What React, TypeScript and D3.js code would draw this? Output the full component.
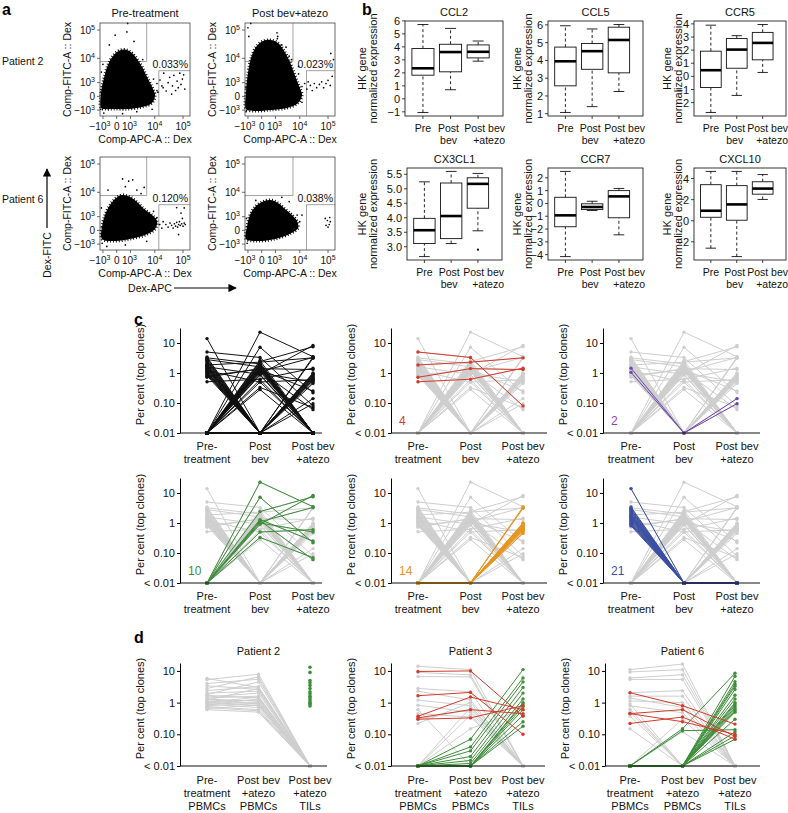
import React, { useEffect, useRef } from 'react';
import * as d3 from 'd3';

const W = 788;
const H = 813;
const FONT = '"Liberation Sans", Arial, Helvetica, sans-serif';

// ---------- a: flow cytometry (Comp-APC-A, Comp-FITC-A) ----------
const flowTicks = [-1000, 0, 1000, 10000, 100000];
const flowTickBase = ['−10', '0', '10', '10', '10'];
const flowTickExp = ['3', '', '3', '4', '5'];
const flowTitles = ['Pre-treatment', 'Post bev+atezo'];
const flowPercents = ['0.033%', '0.023%', '0.120%', '0.038%'];
const preGates = [[5000, 7600], [14000, 3400]];
const postGates = [[5600, 7600], [17500, 3400]];

// dense part of each plot, outline of the black cloud
const p2PreCloud = [[-1254, -767], [-1254, 155], [-880, 1670], [-502, 5740], [-172, 12110], [102, 18780], [553, 20350], [1203, 15530], [2039, 9370], [3288, 4830], [5152, 1855], [7932, 557], [10215, 58], [7932, -350], [3288, -670], [736, -873], [-120, -873], [-774, -873]];
const p2PostCloud = [[-1254, -873], [-1254, 155], [-995, 2740], [-676, 10240], [-288, 25400], [55, 41300], [553, 44800], [1344, 35100], [2480, 18780], [3945, 8650], [6132, 2740], [9350, 646], [12080, 58], [8630, -350], [3288, -767], [472, -987], [-354, -1110]];
const p6PreCloud = [[-1119, -497], [-1119, 155], [-774, 1209], [-354, 3300], [-27, 6150], [265, 7960], [950, 6710], [2039, 4330], [3945, 2260], [7932, 1209], [12080, 557], [10215, 58], [4316, -224], [950, -497], [-63, -670]];
const p6PostCloud = [[-1254, -497], [-1119, 155], [-774, 1209], [-354, 2740], [13, 4330], [472, 5170], [1344, 3960], [2730, 2260], [5152, 1209], [7932, 557], [8630, 105], [4717, -126], [950, -497], [-227, -670]];

// sparse events outside the cloud
const p2PreEvents = [[15400, 1350], [18000, 650], [21000, 2700], [25700, 270], [30000, 1000], [34000, 1800], [42800, 650], [48000, 2200], [55000, 300], [62000, 1200], [77000, 2700], [85000, 800], [95000, 1500], [115000, 400], [105000, 2300], [68000, 500], [40000, 100], [20000, 500], [12000, 900], [13000, 200], [-65, 66000], [630, 86000], [700, 170000], [1500, 40000], [-400, 30000], [-1300, 200], [-1300, -900], [-900, -1400], [300, -1500], [2000, -1200], [8000, -900], [9000, 1500], [12000, 300], [3500, 9000], [-1000, 6000], [-1200, 3000]];
const p2PostEvents = [[12000, 600], [15000, 900], [18000, 400], [20000, 1100], [24000, 700], [28000, 300], [33000, 900], [40000, 500], [50000, 800], [60000, 1100], [70000, 500], [85000, 900], [100000, 1300], [120000, 700], [140000, 2000], [155000, 9000], [125000, 15000], [-900, 60000], [-1000, 120000], [-700, 170000], [2000, 30000], [4000, 12000], [9000, 5000], [1200, 80000], [1300, 60000], [1250, 50000], [-1300, 500], [-1250, -1200], [12000, -300], [9000, 2500], [5000, 9000], [3000, 25000]];
const p6PreEvents = [[25000, 300], [30000, 150], [35000, 400], [40000, 250], [45000, 100], [50000, 350], [55000, 200], [60000, 450], [65000, 150], [70000, 300], [75000, 500], [80000, 250], [90000, 350], [100000, 200], [110000, 400], [120000, 300], [95000, 800], [85000, 1500], [110000, 2500], [18000, 100], [15000, 300], [20000, 500], [60000, 2600], [70000, -200], [300, 30000], [800, 25000], [1300, 28000], [2000, 12000], [3000, 9000], [4000, 15000], [500, 16000], [-500, 12000], [-1200, 2500], [-1100, -900], [-600, -1300], [500, -1100], [5000, -700], [12000, 900], [9000, 1800]];
const p6PostEvents = [[80000, 800], [95000, 600], [110000, 300], [120000, 500], [85000, 250], [100000, 150], [115000, 900], [-1200, 800], [-1100, -900], [8000, 1200], [10000, 500], [12000, 1200], [4000, 4500], [2000, 6500], [-300, 5000], [-1300, -300]];

// ---------- b: box plots, [low whisker, Q1, median, Q3, high whisker] ----------
const boxGroups = [['Pre'], ['Post', 'bev'], ['Post bev', '+atezo']];
const ccl2Stats = [[-1.05, 1.82, 2.35, 3.87, 5.72], [0.7, 2.08, 3.6, 4.2, 5.42], [2.9, 3.15, 3.62, 4.15, 4.45]];
const ccl5Stats = [[1.07, 2.57, 3.95, 4.75, 5.95], [1.4, 3.5, 4.52, 4.95, 5.77], [2.25, 3.3, 5.15, 5.87, 6.02]];
const ccr5Stats = [[-2.75, -0.85, 0.47, 1.92, 3.9], [-1.45, 0.62, 2.04, 2.88, 3.1], [0.3, 1.26, 2.55, 3.35, 3.95]];
const cx3cl1Stats = [[2.66, 3.11, 3.57, 3.98, 5.24], [3.11, 3.28, 4.06, 5.2, 5.6], [3.55, 4.33, 5.17, 5.38, 5.53]];
const cx3cl1Outliers = [[3, 2.9]];
const ccr7Stats = [[-4.15, -1.82, -0.93, 0.48, 2.5], [-0.55, -0.48, -0.28, -0.03, 0.17], [-2.45, -1.12, 0.55, 1.0, 1.17]];
const cxcl10Stats = [[-2.6, 0.33, 0.95, 3.42, 4.68], [-3.4, 0.05, 1.55, 3.33, 4.68], [2.02, 2.52, 3.05, 3.7, 4.38]];
const ccl2Ticks = [-1, 0, 1, 2, 3, 4, 5, 6];
const ccl5Ticks = [1, 2, 3, 4, 5, 6];
const ccr5Ticks = [-2, -1, 0, 1, 2, 3, 4];
const cx3cl1Ticks = [3.0, 3.5, 4.0, 4.5, 5.0, 5.5];
const ccr7Ticks = [-4, -3, -2, -1, 0, 1, 2];
const cxcl10Ticks = [-2, 0, 2, 4];

// ---------- c: top clones, per cent at [pre, post bev, post bev+atezo]; 0.01 = below detection ----------
const cTimeLabels = [['Pre-', 'treatment'], ['Post', 'bev'], ['Post bev', '+atezo']];
const cRed = [[5.0, 3.3, 0.08], [1.85, 2.3, 3.2], [0.72, 1.4, 1.3], [0.51, 0.62, 1.45]];
const cPurple = [[1.45, 0.01, 0.14], [1.05, 0.01, 0.095]];
const cGreen = [[0.01, 23, 3.5], [0.01, 7.2, 0.22], [0.01, 2.4, 7.5], [0.01, 1.3, 0.25], [0.01, 1.2, 0.06], [0.01, 1.1, 3.3], [0.01, 1.0, 0.5], [0.01, 0.5, 0.6], [0.01, 0.33, 0.07], [0.01, 0.9, 8.3]];
const cOrange = [[0.01, 0.01, 3.4], [0.01, 0.01, 3.1], [0.01, 0.01, 1.0], [0.01, 0.01, 0.95], [0.01, 0.01, 0.9], [0.01, 0.01, 0.85], [0.01, 0.01, 0.8], [0.01, 0.01, 0.75], [0.01, 0.01, 0.7], [0.01, 0.01, 0.66], [0.01, 0.01, 0.62], [0.01, 0.01, 0.58], [0.01, 0.01, 0.52], [0.01, 0.01, 0.45]];
const cBlue = [[14, 0.01, 0.01], [3.4, 0.01, 0.01], [3.1, 0.01, 0.01], [2.8, 0.01, 0.01], [2.6, 0.01, 0.01], [2.4, 0.01, 0.01], [2.2, 0.01, 0.01], [2.0, 0.01, 0.01], [1.9, 0.01, 0.01], [1.8, 0.01, 0.01], [1.7, 0.01, 0.01], [1.6, 0.01, 0.01], [1.5, 0.01, 0.01], [1.4, 0.01, 0.01], [1.3, 0.01, 0.01], [1.2, 0.01, 0.01], [1.1, 0.01, 0.01], [1.0, 0.01, 0.01], [0.95, 0.01, 0.01], [0.88, 0.01, 0.01], [0.8, 0.01, 0.01]];
const cPostOnly = [[0.01, 2.6, 0.01], [0.01, 2.2, 0.01], [0.01, 2.0, 0.01], [0.01, 1.9, 0.01], [0.01, 1.8, 0.01], [0.01, 1.7, 0.01], [0.01, 1.6, 0.01], [0.01, 1.5, 0.01], [0.01, 1.45, 0.01], [0.01, 1.4, 0.01], [0.01, 1.3, 0.01], [0.01, 1.2, 0.01], [0.01, 1.1, 0.01], [0.01, 0.85, 0.01], [0.01, 0.6, 0.01], [0.01, 0.28, 0.01]];
const cPrePost = [[2.8, 1.6, 0.01], [3.2, 2.0, 0.01], [1.6, 0.9, 0.01], [1.2, 0.5, 0.01], [0.8, 1.35, 0.01]];

// ---------- d: PBMC pre, PBMC post bev+atezo, TIL post bev+atezo ----------
const dTimeLabels = [['Pre-', 'treatment', 'PBMCs'], ['Post bev', '+atezo', 'PBMCs'], ['Post bev', '+atezo', 'TILs']];
const p2Pbmc = [[5.8, 3.0, 0.01], [5.3, 7.9, 0.01], [4.0, 5.5, 0.01], [3.4, 2.6, 0.01], [2.8, 6.5, 0.01], [2.4, 3.2, 0.01], [2.0, 2.3, 0.01], [1.8, 4.5, 0.01], [1.7, 1.4, 0.01], [1.5, 2.0, 0.01], [1.4, 1.6, 0.01], [1.3, 1.1, 0.01], [1.25, 0.9, 0.01], [1.2, 2.8, 0.01], [1.1, 1.2, 0.01], [1.05, 0.8, 0.01], [1.0, 1.5, 0.01], [0.95, 1.0, 0.01], [0.9, 0.7, 0.01], [0.85, 1.3, 0.01], [0.8, 0.95, 0.01], [0.75, 0.6, 0.01], [0.7, 0.55, 0.01], [0.65, 0.85, 0.01], [0.6, 0.5, 0.01]];
const p2TilOnly = [13, 9, 5, 4.2, 3.5, 2.8, 2.2, 1.9, 1.6, 1.4, 1.2, 1.05, 0.95, 0.85, 0.78];
const p3Grey = [[14, 11, 0.01], [9, 7.5, 0.01], [6.6, 6.5, 0.01], [2.8, 2.2, 0.01], [2.3, 1.2, 0.01], [1.2, 0.8, 0.01], [0.83, 0.5, 0.01], [0.45, 0.35, 0.01], [0.3, 0.6, 0.01], [0.22, 1.0, 0.01], [0.01, 0.4, 0.01], [0.01, 0.7, 0.01], [0.6, 0.01, 0.01], [0.01, 0.15, 0.6]];
const p3Red = [[9.6, 10, 0.37], [1.65, 2.1, 0.1], [0.37, 1.5, 0.6], [0.3, 0.33, 0.8], [0.33, 0.6, 0.45]];
const p3Green = [[0.01, 0.07, 11], [0.01, 0.04, 6], [0.01, 0.03, 4.5], [0.01, 0.02, 3], [0.01, 0.015, 2], [0.01, 0.012, 1.3], [0.01, 0.01, 1.0], [0.01, 0.01, 0.9], [0.01, 0.01, 0.75], [0.01, 0.01, 0.6], [0.01, 0.01, 0.4], [0.01, 0.01, 0.25], [0.01, 0.01, 0.18]];
const p6Grey = [[11, 16.5, 0.01], [9.3, 11, 0.01], [6, 7.6, 0.01], [5.4, 5.4, 0.01], [2.05, 2.4, 0.01], [1.6, 1.6, 0.01], [1.13, 1.0, 0.01], [0.79, 0.48, 0.01], [0.62, 0.01, 0.01], [0.38, 0.01, 0.01], [0.15, 0.01, 0.01], [0.01, 0.3, 0.01], [0.01, 0.12, 0.01], [1.4, 0.7, 0.01], [0.5, 0.01, 0.01], [0.9, 0.01, 0.01]];
const p6Red = [[2.05, 0.8, 0.21], [0.45, 0.6, 0.085], [0.22, 0.35, 0.07], [0.45, 0.25, 0.1]];
const p6Green = [[0.01, 0.15, 8.5], [0.01, 0.13, 0.14], [0.01, 0.01, 6.8], [0.01, 0.01, 4.6], [0.01, 0.01, 3.8], [0.01, 0.01, 3.3], [0.01, 0.01, 2.6], [0.01, 0.01, 1.7], [0.01, 0.01, 1.3], [0.01, 0.01, 1.0], [0.01, 0.01, 0.9], [0.01, 0.01, 0.8], [0.01, 0.01, 0.7], [0.01, 0.01, 0.62], [0.01, 0.01, 0.55], [0.01, 0.01, 0.5], [0.01, 0.01, 0.3], [0.01, 0.01, 0.12], [0.01, 0.01, 0.09], [0.01, 0.01, 0.07]];

const GREY = '#cecece';
const RED = '#d33b2a';
const GREEN = '#3e8e3a';
const ORANGE = '#e8941c';
const BLUE = '#3a4ea2';
const PURPLE = '#7046b0';

function text(g, x, y, s, size, anchor = 'middle') {
    return g.append('text').attr('x', x).attr('y', y).attr('font-size', size)
        .attr('text-anchor', anchor).attr('font-family', FONT).attr('fill', '#111').text(s);
}

function vText(g, x, y, s, size) {
    return g.append('text').attr('transform', `translate(${x},${y}) rotate(-90)`)
        .attr('font-size', size).attr('text-anchor', 'middle').attr('font-family', FONT)
        .attr('fill', '#111').text(s);
}

function drawFlow(svg, left, top, cloud, events, gates, pct, title) {
    const w = 90, h = 93;
    const x = d3.scaleSymlog().constant(500).domain([-1400, 175000]).range([left, left + w]);
    const y = d3.scaleSymlog().constant(500).domain([-1900, 176000]).range([top + h, top]);
    const g = svg.append('g');
    const [gA, gB] = gates;

    // gates
    g.append('path').attr('d', `M${x(gA[0])},${top}V${y(gA[1])}H${left}`)
        .attr('fill', 'none').attr('stroke', '#8c8c8c').attr('stroke-width', 0.8);
    g.append('path').attr('d', `M${x(gB[0])},${top + h}V${y(gB[1])}H${left + w}`)
        .attr('fill', 'none').attr('stroke', '#8c8c8c').attr('stroke-width', 0.8);

    const cloudPath = d3.line().x(d => x(d[0])).y(d => y(d[1])).curve(d3.curveCatmullRomClosed)(cloud);
    g.append('path').attr('d', cloudPath).attr('fill', '#000');
    // speckled fringe so the edge of the dense population looks like single events
    g.append('path').attr('d', cloudPath).attr('fill', 'none').attr('stroke', '#000')
        .attr('stroke-width', 3).attr('stroke-dasharray', '0.9 2');
    g.selectAll('circle.ev').data(events).join('circle')
        .attr('class', 'ev')
        .attr('cx', d => x(d[0])).attr('cy', d => y(d[1])).attr('r', 0.85).attr('fill', '#000');

    g.append('rect').attr('x', left).attr('y', top).attr('width', w).attr('height', h)
        .attr('fill', 'none').attr('stroke', '#444').attr('stroke-width', 0.8);

    const labelShift = [-3, 0, -1, 0, 0];
    flowTicks.forEach((t, i) => {
        g.append('line').attr('x1', x(t)).attr('x2', x(t)).attr('y1', top + h).attr('y2', top + h + 3)
            .attr('stroke', '#444').attr('stroke-width', 0.8);
        const tx = text(g, x(t) + labelShift[i], top + h + 14, flowTickBase[i], 10);
        if (flowTickExp[i]) tx.append('tspan').attr('dy', -4).attr('font-size', 7).text(flowTickExp[i]);
        g.append('line').attr('x1', left - 3).attr('x2', left).attr('y1', y(t)).attr('y2', y(t))
            .attr('stroke', '#444').attr('stroke-width', 0.8);
        const ty = text(g, left - 5, y(t) + 3.5, flowTickBase[i], 10, 'end');
        if (flowTickExp[i]) ty.append('tspan').attr('dy', -4).attr('font-size', 7).text(flowTickExp[i]);
    });

    text(g, left + w / 2, top + h + 27, 'Comp-APC-A :: Dex', 10.5);
    vText(g, left - 29, top + h / 2, 'Comp-FITC-A :: Dex', 10.5);
    text(g, left + w - 2, y(gB[1]) - 3, pct, 10.5, 'end');
    if (title) text(g, left + w / 2, top - 6, title, 11);
}

function drawBox(svg, left, top, w, h, title, stats, outliers, ticks, decimals, hkX, rowLabelY) {
    const all = stats.flat().concat(outliers.map(d => d[1]));
    const [lo, hi] = d3.extent(all);
    const pad = (hi - lo) * 0.04;
    const y = d3.scaleLinear().domain([lo - pad, hi + pad]).range([top + h, top]);
    const x = d3.scaleLinear().domain([0.35, 3.9]).range([left, left + w]);
    const g = svg.append('g');
    const half = x(1.4) - x(1);
    const cap = x(1.2) - x(1);

    stats.forEach((s, i) => {
        const cx = x(i + 1);
        g.append('line').attr('x1', cx).attr('x2', cx).attr('y1', y(s[0])).attr('y2', y(s[1]))
            .attr('stroke', '#111').attr('stroke-dasharray', '3,2.5').attr('stroke-width', 0.9);
        g.append('line').attr('x1', cx).attr('x2', cx).attr('y1', y(s[3])).attr('y2', y(s[4]))
            .attr('stroke', '#111').attr('stroke-dasharray', '3,2.5').attr('stroke-width', 0.9);
        [s[0], s[4]].forEach(v => g.append('line').attr('x1', cx - cap).attr('x2', cx + cap)
            .attr('y1', y(v)).attr('y2', y(v)).attr('stroke', '#111').attr('stroke-width', 0.9));
        g.append('rect').attr('x', cx - half).attr('y', y(s[3])).attr('width', half * 2)
            .attr('height', y(s[1]) - y(s[3])).attr('fill', '#fff').attr('stroke', '#111').attr('stroke-width', 0.9);
        g.append('line').attr('x1', cx - half).attr('x2', cx + half).attr('y1', y(s[2])).attr('y2', y(s[2]))
            .attr('stroke', '#000').attr('stroke-width', 2.6);
        g.append('line').attr('x1', cx).attr('x2', cx).attr('y1', top + h).attr('y2', top + h + 3)
            .attr('stroke', '#111').attr('stroke-width', 0.8);
        boxGroups[i].forEach((l, j) => {
            if (i === 2) text(g, left + w + 2, rowLabelY + j * 12, l, 10.5, 'end');
            else text(g, cx - (i === 1 ? 2 : 0), rowLabelY + j * 12, l, 10.5);
        });
    });
    outliers.forEach(o => g.append('circle').attr('cx', x(o[0])).attr('cy', y(o[1])).attr('r', 1.1).attr('fill', '#111'));

    g.append('rect').attr('x', left).attr('y', top).attr('width', w).attr('height', h)
        .attr('fill', 'none').attr('stroke', '#222').attr('stroke-width', 0.9);
    ticks.forEach(t => {
        g.append('line').attr('x1', left - 3).attr('x2', left).attr('y1', y(t)).attr('y2', y(t))
            .attr('stroke', '#111').attr('stroke-width', 0.8);
        text(g, left - 5, y(t) + 4, t.toFixed(decimals).replace('-', '−'), 11, 'end');
    });
    text(g, left + w / 2, top - 5, title, 11);
    vText(g, hkX, top + h / 2, 'HK gene', 11);
    vText(g, hkX + 11, top + h / 2, 'normalized expression', 11);
}

function drawClones(svg, o) {
    const { axisX, cols, xEnd, base, top, yMax, layers, tag, tagColor, ylabel, xlabels, labelY, title, tilDots } = o;
    const y = d3.scaleLog().domain([0.01, yMax]).range([base, top]);
    const x = d3.scalePoint().domain([0, 1, 2]).range(cols);
    const g = svg.append('g');
    const line = d3.line().x((_, i) => x(i)).y(d => y(d));

    layers.forEach(layer => {
        g.append('g').selectAll('path').data(layer.data).join('path')
            .attr('d', d => line(d)).attr('fill', 'none')
            .attr('stroke', layer.color).attr('stroke-width', 1);
        g.append('g').selectAll('circle').data(layer.data.flatMap(d => d.map((v, i) => [i, v]))).join('circle')
            .attr('cx', d => x(d[0])).attr('cy', d => y(d[1])).attr('r', 1.7).attr('fill', layer.color);
    });
    if (tilDots) {
        g.append('g').selectAll('circle').data(tilDots).join('circle')
            .attr('cx', x(2)).attr('cy', d => y(d)).attr('r', 1.8).attr('fill', GREEN);
    }

    const ax = g.append('g').attr('transform', `translate(${axisX},0)`)
        .call(d3.axisLeft(y).tickValues([0.01, 0.1, 1, 10])
            .tickFormat(d => (d === 0.01 ? '< 0.01' : d === 0.1 ? '0.10' : String(d)))
            .tickSize(3).tickPadding(2).tickSizeOuter(0));
    ax.attr('font-family', FONT).attr('font-size', 11);
    ax.selectAll('text').attr('fill', '#111');
    g.append('line').attr('x1', axisX).attr('x2', xEnd).attr('y1', base).attr('y2', base)
        .attr('stroke', '#111').attr('stroke-width', 1);

    vText(g, axisX - 36, (top + base) / 2 - 6, ylabel, 11);
    xlabels.forEach((ls, i) => ls.forEach((l, j) => text(g, x(i), labelY + j * 13, l, 11)));
    if (tag) text(g, axisX + 8, base - 8, tag, 12, 'start').attr('fill', tagColor);
    if (title) text(g, (cols[0] + cols[1]) / 2, top - 8, title, 11);
}

export default function App() {
    const svgRef = useRef(null);

    useEffect(() => {
        const svg = d3.select(svgRef.current);
        svg.selectAll('*').remove();
        svg.append('rect').attr('width', W).attr('height', H).attr('fill', '#fff');

        // panel letters
        [['a', 2, 15], ['b', 362, 15], ['c', 134, 325], ['d', 134, 643]].forEach(([s, px, py]) =>
            text(svg, px, py, s, 16, 'start').attr('font-weight', 'bold').attr('fill', '#000'));

        // ----- a -----
        text(svg, 2, 65, 'Patient 2', 10.5, 'start');
        text(svg, 2, 203, 'Patient 6', 10.5, 'start');
        drawFlow(svg, 100, 23, p2PreCloud, p2PreEvents, preGates, flowPercents[0], flowTitles[0]);
        drawFlow(svg, 245, 23, p2PostCloud, p2PostEvents, postGates, flowPercents[1], flowTitles[1]);
        drawFlow(svg, 100, 157, p6PreCloud, p6PreEvents, preGates, flowPercents[2], null);
        drawFlow(svg, 245, 157, p6PostCloud, p6PostEvents, postGates, flowPercents[3], null);

        const defs = svg.append('defs');
        defs.append('marker').attr('id', 'arr').attr('viewBox', '0 0 10 10').attr('refX', 9).attr('refY', 5)
            .attr('markerWidth', 7).attr('markerHeight', 7).attr('orient', 'auto')
            .append('path').attr('d', 'M0,0L10,5L0,10z').attr('fill', '#000');
        svg.append('line').attr('x1', 47).attr('x2', 47).attr('y1', 228).attr('y2', 169)
            .attr('stroke', '#000').attr('stroke-width', 1.2).attr('marker-end', 'url(#arr)');
        vText(svg, 51, 255, 'Dex-FITC', 10.5);
        text(svg, 150, 292, 'Dex-APC', 10.5);
        svg.append('line').attr('x1', 174).attr('x2', 236).attr('y1', 288).attr('y2', 288)
            .attr('stroke', '#000').attr('stroke-width', 1.2).attr('marker-end', 'url(#arr)');

        // ----- b -----
        drawBox(svg, 405, 21, 98, 95, 'CCL2', ccl2Stats, [], ccl2Ticks, 0, 366, 132);
        drawBox(svg, 548, 21, 95, 95, 'CCL5', ccl5Stats, [], ccl5Ticks, 0, 521, 132);
        drawBox(svg, 694, 21, 92, 95, 'CCR5', ccr5Stats, [], ccr5Ticks, 0, 671, 132);
        drawBox(svg, 407, 168, 95, 92, 'CX3CL1', cx3cl1Stats, cx3cl1Outliers, cx3cl1Ticks, 1, 366, 276);
        drawBox(svg, 548, 168, 95, 92, 'CCR7', ccr7Stats, [], ccr7Ticks, 0, 521, 276);
        drawBox(svg, 694, 168, 92, 92, 'CXCL10', cxcl10Stats, [], cxcl10Ticks, 0, 671, 276);

        // ----- c -----
        const cAll = [...cRed, ...cPurple, ...cGreen, ...cOrange, ...cBlue, ...cPostOnly, ...cPrePost];
        const colsX = [
            { axisX: 180, cols: [207, 313], xEnd: 322 },
            { axisX: 391, cols: [418, 523], xEnd: 547 },
            { axisX: 603, cols: [631, 737], xEnd: 760 },
        ];
        const row1 = { base: 433, top: 328, yMax: 31.6, labelY: 450, xlabels: cTimeLabels };
        const row2 = { base: 583, top: 478, yMax: 31.6, labelY: 600, xlabels: cTimeLabels };
        const pc = 'Per cent (top clones)';
        drawClones(svg, { ...colsX[0], ...row1, ylabel: pc, layers: [{ data: cAll, color: '#111' }] });
        drawClones(svg, { ...colsX[1], ...row1, ylabel: pc, tag: '4', tagColor: RED, layers: [{ data: cAll, color: GREY }, { data: cRed, color: RED }] });
        drawClones(svg, { ...colsX[2], ...row1, ylabel: pc, tag: '2', tagColor: '#9a3fb0', layers: [{ data: cAll, color: GREY }, { data: cPurple, color: PURPLE }] });
        drawClones(svg, { ...colsX[0], ...row2, ylabel: pc, tag: '10', tagColor: GREEN, layers: [{ data: cAll, color: GREY }, { data: cGreen, color: GREEN }] });
        drawClones(svg, { ...colsX[1], ...row2, ylabel: 'Pe rcent (top clones)', tag: '14', tagColor: ORANGE, layers: [{ data: cAll, color: GREY }, { data: cOrange, color: ORANGE }] });
        drawClones(svg, { ...colsX[2], ...row2, ylabel: pc, tag: '21', tagColor: BLUE, layers: [{ data: cAll, color: GREY }, { data: cBlue, color: BLUE }] });

        // ----- d -----
        const rowD = { base: 766, top: 663, yMax: 17.8, labelY: 784, xlabels: dTimeLabels, ylabel: pc };
        drawClones(svg, { axisX: 180, cols: [207, 310], xEnd: 327, ...rowD, title: 'Patient 2', layers: [{ data: p2Pbmc, color: GREY }], tilDots: p2TilOnly });
        drawClones(svg, { axisX: 391, cols: [418, 523], xEnd: 545, ...rowD, title: 'Patient 3', layers: [{ data: p3Grey, color: GREY }, { data: p3Green, color: GREEN }, { data: p3Red, color: RED }] });
        drawClones(svg, { axisX: 605, cols: [630, 735], xEnd: 760, ...rowD, title: 'Patient 6', layers: [{ data: p6Grey, color: GREY }, { data: p6Green, color: GREEN }, { data: p6Red, color: RED }] });
    }, []);

    return (
        <svg ref={svgRef} width={W} height={H}
             style={{ position: 'absolute', left: 0, top: 0, display: 'block' }} />
    );
}
